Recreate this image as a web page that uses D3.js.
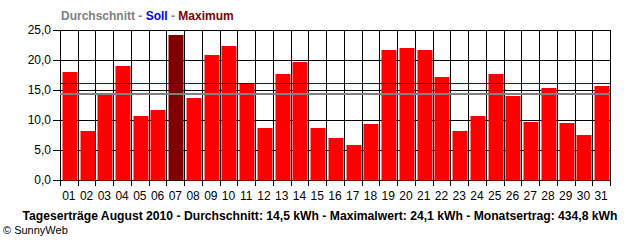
<!DOCTYPE html>
<html>
    <head>
        <script src="https://cdnjs.cloudflare.com/ajax/libs/d3/7.8.5/d3.min.js"></script>
        <title>Tageserträge August 2010</title>
        <style>
            html, body { margin: 0; background: #fff; }
            svg { display: block; font-family: "Liberation Sans", Arial, sans-serif; }
        </style>
    </head>
    <body>
        <svg width="640" height="240"></svg>
        <script>
            // daily yield in kWh
            var days = ["01","02","03","04","05","06","07","08","09","10","11","12","13","14","15","16",
                        "17","18","19","20","21","22","23","24","25","26","27","28","29","30","31"];
            var yields = [18.0, 8.2, 14.3, 19.0, 10.6, 11.7, 24.1, 13.7, 20.9, 22.4, 16.2, 8.6, 17.7, 19.7, 8.7, 7.0,
                          5.9, 9.4, 21.7, 22.0, 21.7, 17.2, 8.2, 10.6, 17.7, 14.0, 9.7, 15.4, 9.5, 7.5, 15.7];
            var yTicks = [0, 5, 10, 15, 20, 25];
            var soll = 16.1;
            var avgLine = 14.3;
            var footer = "Tageserträge August 2010 - Durchschnitt: 14,5 kWh - Maximalwert: 24,1 kWh - Monatsertrag: 434,8 kWh";

            var plotL = 60, plotR = 610, plotT = 30, plotB = 180;
            var svg = d3.select("svg");

            var x = d3.scaleBand().domain(days).range([plotL, plotR]).padding(0);
            var y = d3.scaleLinear().domain([0, 25]).range([plotB, plotT]);
            var fmt = function(v){ return d3.format(".1f")(v).replace(".", ","); };
            var maxVal = d3.max(yields);

            // grid
            var grid = svg.append("g").attr("stroke", "#000").attr("shape-rendering", "crispEdges");
            grid.selectAll(".h").data(yTicks).enter().append("line")
                .attr("x1", plotL - 7).attr("x2", plotR)
                .attr("y1", function(d){ return y(d) + 0.5; })
                .attr("y2", function(d){ return y(d) + 0.5; });
            var edges = days.map(function(d){ return x(d); }).concat([plotR]);
            grid.selectAll(".v").data(edges).enter().append("line")
                .attr("x1", function(d){ return Math.round(d) + 0.5; })
                .attr("x2", function(d){ return Math.round(d) + 0.5; })
                .attr("y1", plotT).attr("y2", plotB + 6);

            // bars
            var bw = x.bandwidth();
            svg.selectAll(".bar").data(yields).enter().append("rect")
                .attr("x", function(d, i){ return Math.round(x(days[i]) + bw * 0.1) + 0.5; })
                .attr("width", Math.round(bw * 0.85))
                .attr("y", function(d){ return Math.round(y(d)); })
                .attr("height", function(d){ return plotB + 0.5 - Math.round(y(d)); })
                .attr("fill", function(d){ return d === maxVal ? "#800000" : "#ff0000"; });

            // soll and average lines
            var lines = svg.append("g").attr("shape-rendering", "crispEdges");
            lines.append("line").attr("x1", plotL).attr("x2", plotR)
                .attr("y1", Math.round(y(soll)) + 0.5).attr("y2", Math.round(y(soll)) + 0.5)
                .attr("stroke", "#0000cc").attr("stroke-width", 1);
            lines.append("line").attr("x1", plotL).attr("x2", plotR)
                .attr("y1", Math.round(y(avgLine))).attr("y2", Math.round(y(avgLine)))
                .attr("stroke", "#808080").attr("stroke-width", 2);

            // axis labels
            svg.selectAll(".yl").data(yTicks).enter().append("text")
                .attr("x", 51).attr("y", function(d){ return y(d) + 4; })
                .attr("text-anchor", "end").attr("font-size", 12)
                .text(fmt);
            svg.selectAll(".xl").data(days).enter().append("text")
                .attr("x", function(d){ return x(d) + bw / 2; }).attr("y", 200)
                .attr("text-anchor", "middle").attr("font-size", 12)
                .text(function(d){ return d; });

            // legend title
            var title = svg.append("text").attr("x", 61).attr("y", 20)
                .attr("font-size", 12).attr("font-weight", "bold");
            title.append("tspan").attr("fill", "#808080").text("Durchschnitt - ");
            title.append("tspan").attr("fill", "#0000ff").text("Soll");
            title.append("tspan").attr("fill", "#808080").text(" - ");
            title.append("tspan").attr("fill", "#800000").text("Maximum");

            // footer
            svg.append("text").attr("x", 320).attr("y", 220)
                .attr("text-anchor", "middle").attr("font-size", 12).attr("font-weight", "bold")
                .attr("textLength", 595).attr("lengthAdjust", "spacingAndGlyphs")
                .text(footer);
            svg.append("text").attr("x", 3).attr("y", 234).attr("font-size", 11)
                .text("© SunnyWeb");
        </script>
    </body>
</html>
